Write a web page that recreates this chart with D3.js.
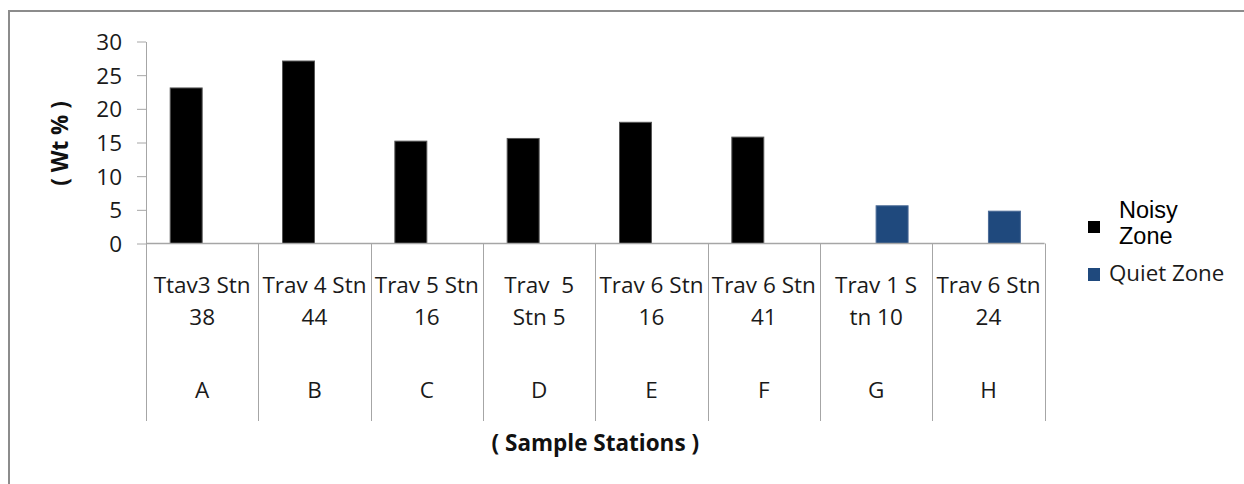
<!DOCTYPE html>
<html>
<head>
<meta charset="utf-8">
<script src="https://cdn.jsdelivr.net/npm/d3@7"></script>
<style>
  html, body { margin: 0; padding: 0; background: #fff; }
  svg { display: block; }
  text { white-space: pre; }
</style>
</head>
<body>
<svg id="chart" width="1244" height="484"></svg>
<script>
const categories = ["A", "B", "C", "D", "E", "F", "G", "H"];
const labelLine1 = ["Ttav3 Stn", "Trav 4 Stn", "Trav 5 Stn", "Trav  5", "Trav 6 Stn", "Trav 6 Stn", "Trav 1 S", "Trav 6 Stn"];
const labelLine2 = ["38", "44", "16", "Stn 5", "16", "41", "tn 10", "24"];
const seriesNames = ["Noisy Zone", "Quiet Zone"];
const noisyValues = [23.1, 27.1, 15.2, 15.6, 18.0, 15.8, 0, 0];
const quietValues = [0, 0, 0, 0, 0, 0, 5.6, 4.8];
const yTicks = [0, 5, 10, 15, 20, 25, 30];
const colors = ["#000000", "#1f497d"];

const svg = d3.select("#chart");
const axisColor = "#a6a6a6";

// outer chart border (extends past the canvas right/bottom)
svg.append("rect")
  .attr("x", 9).attr("y", 11).attr("width", 1400).attr("height", 700)
  .attr("fill", "#fff").attr("stroke", "#8c8c8c").attr("stroke-width", 2);

const plotLeft = 146, plotRight = 1044.6, plotTop = 41.5, plotBottom = 243.5;

const y = d3.scaleLinear().domain([0, 30]).range([plotBottom, plotTop]);
const x0 = d3.scaleBand().domain(categories).range([plotLeft, plotRight]).paddingInner(0).paddingOuter(0);
const bw = x0.bandwidth();
const x1 = d3.scaleBand().domain(seriesNames).range([bw * 0.2155, bw * 0.7845]).padding(0);

// y axis
const yAxis = svg.append("g")
  .attr("transform", `translate(${plotLeft},0)`)
  .call(d3.axisLeft(y).tickValues(yTicks).tickSize(9).tickPadding(15).tickSizeOuter(0));
yAxis.select(".domain").attr("stroke", axisColor);
yAxis.selectAll(".tick line").attr("stroke", axisColor);
yAxis.selectAll(".tick text")
  .attr("font-family", "Open Sans").attr("font-size", 22.5).attr("fill", "#1a1a1a")
  .attr("dy", "0.36em");

// bars
const rows = categories.map((c, i) => ({ cat: c, vals: [noisyValues[i], quietValues[i]] }));
const groups = svg.append("g").selectAll("g").data(rows).join("g")
  .attr("transform", d => `translate(${x0(d.cat)},0)`);
groups.selectAll("rect")
  .data(d => d.vals.map((v, j) => ({ v, s: seriesNames[j], j })).filter(e => e.v > 0))
  .join("rect")
  .attr("x", e => x1(e.s))
  .attr("width", x1.bandwidth())
  .attr("y", e => y(e.v))
  .attr("height", e => y(0) - y(e.v))
  .attr("fill", e => colors[e.j])
  .attr("stroke", e => e.j === 0 ? "#555" : "#4a6a96")
  .attr("stroke-width", 1);

// category axis line
svg.append("line")
  .attr("x1", plotLeft).attr("x2", plotRight).attr("y1", y(0)).attr("y2", y(0))
  .attr("stroke", axisColor).attr("stroke-width", 1.5);

// separators
const seps = categories.map(c => x0(c)).concat([x0(categories[categories.length - 1]) + bw]);
svg.append("g").selectAll("line").data(seps).join("line")
  .attr("x1", d => Math.round(d) + 0.5).attr("x2", d => Math.round(d) + 0.5)
  .attr("y1", y(0)).attr("y2", 421)
  .attr("stroke", axisColor).attr("stroke-width", 1);

// category labels
const lab = svg.append("g").attr("font-family", "Open Sans").attr("font-size", 22.5).attr("fill", "#1a1a1a")
  .attr("text-anchor", "middle");
categories.forEach((c, i) => {
  const cx = x0(c) + bw / 2;
  lab.append("text").attr("x", cx).attr("y", 293).text(labelLine1[i]);
  lab.append("text").attr("x", cx).attr("y", 325).text(labelLine2[i]);
  lab.append("text").attr("x", cx).attr("y", 398).text(c);
});

// axis titles
svg.append("text")
  .attr("transform", `translate(68,${(plotTop + plotBottom) / 2 + 1}) rotate(-90)`)
  .attr("text-anchor", "middle")
  .attr("font-family", "Open Sans").attr("font-weight", "bold").attr("font-size", 22.5).attr("fill", "#111")
  .text("( Wt % )");
svg.append("text")
  .attr("x", (plotLeft + plotRight) / 2).attr("y", 451)
  .attr("text-anchor", "middle")
  .attr("font-family", "Open Sans").attr("font-weight", "bold").attr("font-size", 22.5).attr("fill", "#111")
  .text("( Sample Stations )");

// legend
const leg = svg.append("g");
leg.append("rect").attr("x", 1088).attr("y", 221).attr("width", 12).attr("height", 12).attr("fill", colors[0]);
leg.append("text").attr("x", 1119).attr("y", 218).attr("font-family", "Liberation Sans").attr("font-size", 23.5).attr("fill", "#000").text("Noisy");
leg.append("text").attr("x", 1119).attr("y", 244).attr("font-family", "Liberation Sans").attr("font-size", 23.5).attr("fill", "#000").text("Zone");
leg.append("rect").attr("x", 1088).attr("y", 268).attr("width", 12).attr("height", 13).attr("fill", colors[1]);
leg.append("text").attr("x", 1109).attr("y", 281).attr("font-family", "Open Sans").attr("font-size", 22.3).attr("fill", "#1a1a1a").text("Quiet Zone");
</script>
</body>
</html>
